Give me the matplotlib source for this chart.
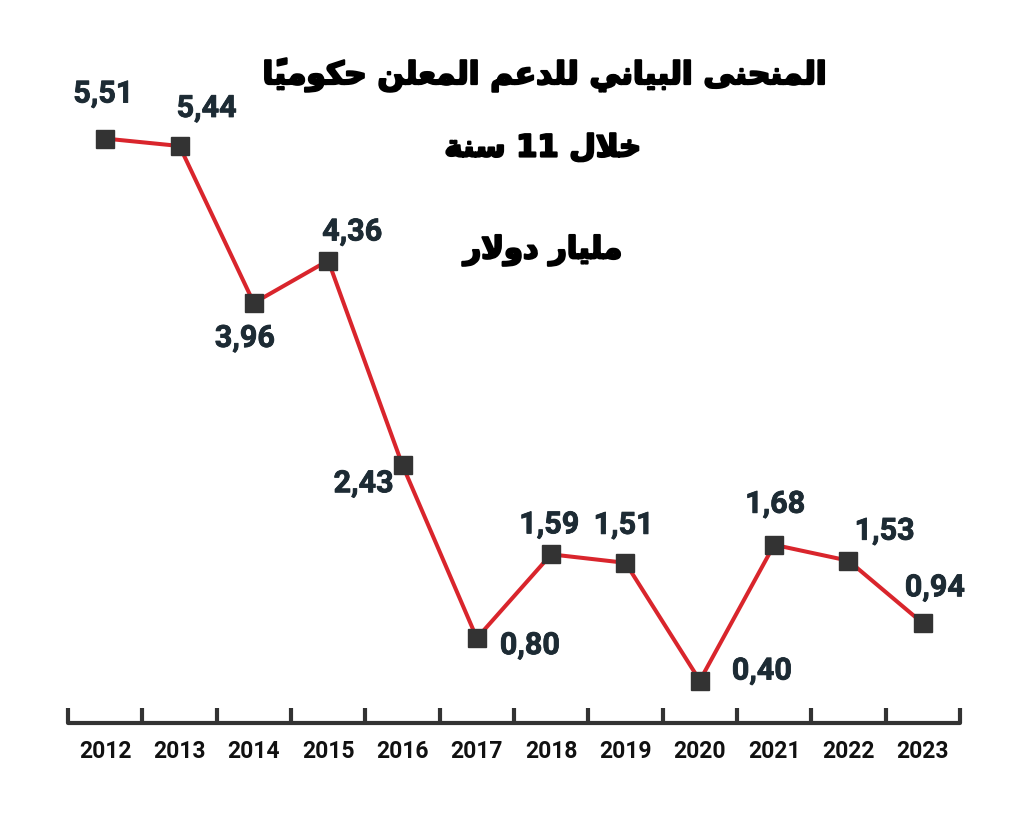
import matplotlib
matplotlib.use("Agg")
import matplotlib.pyplot as plt
import matplotlib.patheffects as pe

years = ["2012", "2013", "2014", "2015", "2016", "2017",
         "2018", "2019", "2020", "2021", "2022", "2023"]
values = [5.51, 5.44, 3.96, 4.36, 2.43, 0.80, 1.59, 1.51, 0.40, 1.68, 1.53, 0.94]
value_labels = ["5,51", "5,44", "3,96", "4,36", "2,43", "0,80",
                "1,59", "1,51", "0,40", "1,68", "1,53", "0,94"]
title_lines = ["المنحنى البياني للدعم المعلن حكومياً", "خلال 11 سنة", "مليار دولار"]

# where each value label sits relative to its marker (pixels)
label_offsets = [(-2, 45), (27, 38), (-9, -35), (24, 29), (-39, -18), (53, -7),
                 (-2, 30), (-2, 38), (62, 10), (1, 41), (36, 30), (12, 36)]

# arabic presentation forms: isolated, final, initial, medial
FORMS = {
    "ا": (0xFE8D, 0xFE8E, None, None),
    "ب": (0xFE8F, 0xFE90, 0xFE91, 0xFE92),
    "ة": (0xFE93, 0xFE94, None, None),
    "ح": (0xFEA1, 0xFEA2, 0xFEA3, 0xFEA4),
    "خ": (0xFEA5, 0xFEA6, 0xFEA7, 0xFEA8),
    "د": (0xFEA9, 0xFEAA, None, None),
    "ر": (0xFEAD, 0xFEAE, None, None),
    "س": (0xFEB1, 0xFEB2, 0xFEB3, 0xFEB4),
    "ع": (0xFEC9, 0xFECA, 0xFECB, 0xFECC),
    "ك": (0xFED9, 0xFEDA, 0xFEDB, 0xFEDC),
    "ل": (0xFEDD, 0xFEDE, 0xFEDF, 0xFEE0),
    "م": (0xFEE1, 0xFEE2, 0xFEE3, 0xFEE4),
    "ن": (0xFEE5, 0xFEE6, 0xFEE7, 0xFEE8),
    "و": (0xFEED, 0xFEEE, None, None),
    "ى": (0xFEEF, 0xFEF0, None, None),
    "ي": (0xFEF1, 0xFEF2, 0xFEF3, 0xFEF4),
}
MARKS = {"\u064B"}


def shape_arabic(text):
    """Pick joined letter forms and put the string in visual (left to right) order"""
    letters = [c for c in text]
    clusters = []
    prev_joins = False
    i = 0
    while i < len(letters):
        c = letters[i]
        if c in MARKS:
            clusters[-1] += c
            i += 1
            continue
        if c not in FORMS:
            clusters.append(c)
            prev_joins = False
            i += 1
            continue
        nxt = i + 1
        while nxt < len(letters) and letters[nxt] in MARKS:
            nxt += 1
        nxt_c = letters[nxt] if nxt < len(letters) else None
        if c == "ل" and nxt_c == "ا":
            clusters.append(chr(0xFEFC if prev_joins else 0xFEFB))
            prev_joins = False
            i = nxt + 1
            continue
        iso, fin, ini, med = FORMS[c]
        next_joins = ini is not None and nxt_c in FORMS
        if prev_joins and next_joins:
            g = med
        elif prev_joins:
            g = fin
        elif next_joins:
            g = ini
        else:
            g = iso
        clusters.append(chr(g))
        prev_joins = ini is not None and next_joins
        i += 1
    # reverse, but keep digit runs left to right
    out = []
    run = []
    for cl in reversed(clusters):
        if cl.isdigit():
            run.insert(0, cl)
        else:
            out.extend(run)
            run = []
            out.append(cl)
    out.extend(run)
    return "".join(out)


fig = plt.figure(figsize=(10.24, 8.26), dpi=100)
ax = fig.add_axes([68 / 1024, 103 / 826, 892 / 1024, 6 * 106.07 / 826])

x = list(range(len(years)))
ax.plot(x, values, color="#d9252c", lw=2.9, zorder=2, clip_on=False)
ax.plot(x, values, ls="none", marker="s", ms=12.5, color="#333333",
        zorder=3, clip_on=False)

for xi, v, lab, (dx, dy) in zip(x, values, value_labels, label_offsets):
    ax.annotate(lab, (xi, v), xytext=(dx, dy), textcoords="offset pixels",
                ha="center", va="center", fontsize=22, fontweight="bold",
                family="Roboto", color="#1d2b34",
                path_effects=[pe.withStroke(linewidth=0.6, foreground="#1d2b34")])

ax.set_xlim(-0.5, 11.5)
ax.set_ylim(0, 6)
for side in ["top", "left", "right"]:
    ax.spines[side].set_visible(False)
ax.spines["bottom"].set_linewidth(3)
ax.spines["bottom"].set_color("#333333")
ax.spines["bottom"].set_capstyle("round")
ax.set_yticks([])

ax.set_xticks([i - 0.5 for i in range(len(years) + 1)])
ax.set_xticklabels([])
ax.set_xticks(x, minor=True)
ax.set_xticklabels(years, minor=True, fontsize=16.5, fontweight="bold",
                   family="Roboto", color="#111111")
ax.tick_params(axis="x", which="major", direction="in", length=11, width=3,
               color="#333333")
ax.tick_params(axis="x", which="minor", length=0, pad=12)

heavy = [pe.withStroke(linewidth=1.6, foreground="black")]
fig.text(0.532, 0.909, shape_arabic(title_lines[0]), ha="center", va="center",
         fontsize=22.5, fontweight="bold", family="DejaVu Sans", path_effects=heavy)
fig.text(0.530, 0.821, shape_arabic(title_lines[1]), ha="center", va="center",
         fontsize=22, fontweight="bold", family="DejaVu Sans", path_effects=heavy)
fig.text(0.530, 0.697, shape_arabic(title_lines[2]), ha="center", va="center",
         fontsize=22, fontweight="bold", family="DejaVu Sans", path_effects=heavy)

fig.savefig("out.png", dpi=100, facecolor="white")
